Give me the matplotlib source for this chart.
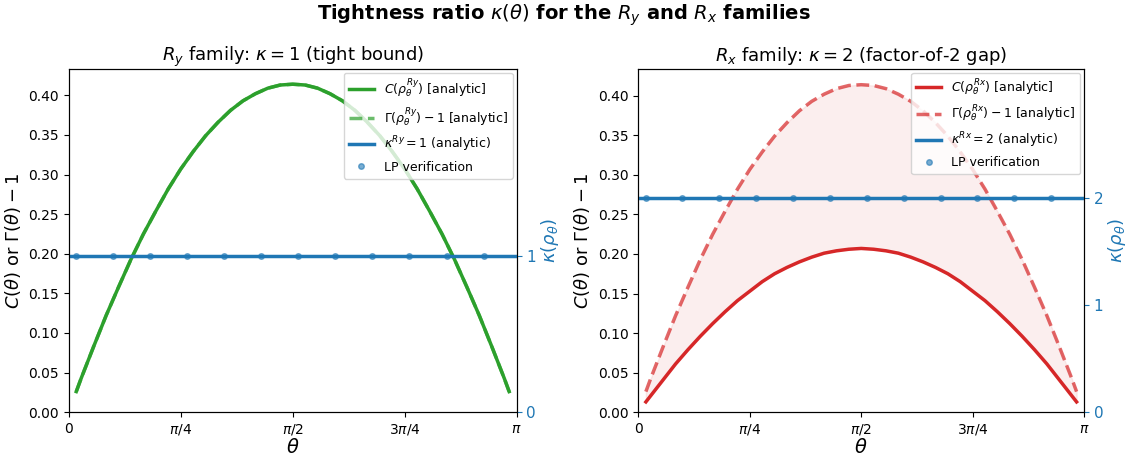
import numpy as np
import matplotlib
matplotlib.use("Agg")
import matplotlib.pyplot as plt

# curve samples (degrees) and values
theta_deg = [3, 5, 10, 15, 20, 25, 30, 35, 40, 45, 50, 55, 60, 65, 70, 75, 80, 85, 90,
             95, 100, 105, 110, 115, 120, 125, 130, 135, 140, 145, 150, 155, 160, 165, 170, 175, 177]
ry_C = [0.026, 0.043, 0.083, 0.122, 0.158, 0.193, 0.225, 0.254, 0.282, 0.307, 0.329, 0.349,
        0.366, 0.381, 0.393, 0.402, 0.409, 0.413, 0.414,
        0.413, 0.409, 0.402, 0.393, 0.381, 0.366, 0.349, 0.329, 0.307, 0.282, 0.254, 0.225,
        0.193, 0.158, 0.122, 0.083, 0.043, 0.026]
ry_gamma_m1 = list(ry_C)
rx_C = [0.013, 0.021, 0.041, 0.061, 0.079, 0.096, 0.112, 0.127, 0.141, 0.153, 0.165, 0.175,
        0.183, 0.190, 0.196, 0.201, 0.204, 0.206, 0.207,
        0.206, 0.204, 0.201, 0.196, 0.190, 0.183, 0.175, 0.165, 0.153, 0.141, 0.127, 0.112,
        0.096, 0.079, 0.061, 0.041, 0.021, 0.013]
rx_gamma_m1 = list(ry_C)

# LP verification points
lp_theta = [0.05, 0.31, 0.57, 0.83, 1.09, 1.35, 1.61, 1.87, 2.13, 2.39, 2.65, 2.91]
lp_kappa_ry = [1] * 12
lp_kappa_rx = [2] * 12
kappa_ry = 1
kappa_rx = 2

theta = np.deg2rad(theta_deg)

fig = plt.figure(figsize=(11.28, 4.59), dpi=100)
ax1 = fig.add_axes([0.061, 0.102, 0.397, 0.748])
ax2 = fig.add_axes([0.566, 0.102, 0.395, 0.748])

panels = [
    (ax1, "Ry", ry_C, ry_gamma_m1, kappa_ry, lp_kappa_ry, "#2ca02c", False,
     r"$R_y$ family: $\kappa = 1$ (tight bound)"),
    (ax2, "Rx", rx_C, rx_gamma_m1, kappa_rx, lp_kappa_rx, "#d62728", True,
     r"$R_x$ family: $\kappa = 2$ (factor-of-2 gap)"),
]

for ax, fam, C, G, kap, lp_k, col, fill, title in panels:
    # dashed first so the solid curve sits on top when they coincide
    l2, = ax.plot(theta, G, color=col, lw=2.5, ls="--", alpha=0.7,
                  label=r"$\Gamma(\rho_\theta^{%s}) - 1$ [analytic]" % fam)
    l1, = ax.plot(theta, C, color=col, lw=2.5, label=r"$C(\rho_\theta^{%s})$ [analytic]" % fam)
    if fill:
        ax.fill_between(theta, C, G, color=col, alpha=0.08)
    ax.set_ylim(bottom=0)
    ax.set_xlim(0, np.pi)
    ax.set_xticks([0, np.pi / 4, np.pi / 2, 3 * np.pi / 4, np.pi])
    ax.set_xticklabels(["0", r"$\pi/4$", r"$\pi/2$", r"$3\pi/4$", r"$\pi$"])
    ax.set_xlabel(r"$\theta$", fontsize=14, labelpad=1)
    ax.set_ylabel(r"$C(\theta)$ or $\Gamma(\theta) - 1$", fontsize=13)
    ax.set_title(title, fontsize=13)

    tw = ax.twinx()
    l3 = tw.axhline(kap, color="#1f77b4", lw=2.5, label=r"$\kappa^{%s} = %d$ (analytic)" % (fam, kap))
    l4, = tw.plot(lp_theta, lp_k, "o", color="#1f77b4", ms=4, alpha=0.6, label="LP verification")
    tw.set_ylim(0, kap + 1.2)
    tw.set_yticks(list(range(0, kap + 1)))
    tw.tick_params(axis="y", colors="#1f77b4", labelsize=11)
    tw.spines["right"].set_color("black")
    tw.set_ylabel(r"$\kappa(\rho_\theta)$", color="#1f77b4", fontsize=13, labelpad=2)
    tw.legend([l1, l2, l3, l4], [h.get_label() for h in [l1, l2, l3, l4]],
              loc="upper right", fontsize=9, borderaxespad=0.3)

fig.suptitle(r"Tightness ratio $\kappa(\theta)$ for the $R_y$ and $R_x$ families",
             fontsize=14, fontweight="bold", y=0.995)

fig.savefig("out.png", dpi=100)
